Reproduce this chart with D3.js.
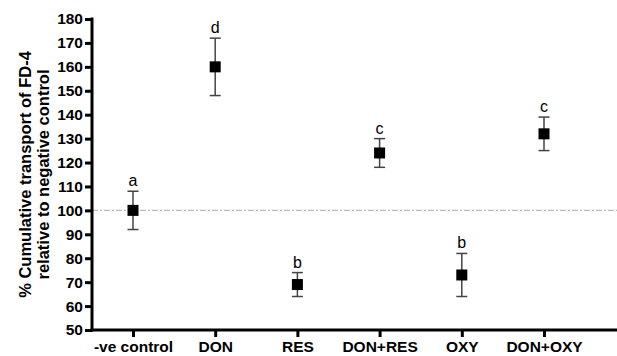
<!DOCTYPE html>
<html><head><meta charset="utf-8">
<script src="https://cdn.jsdelivr.net/npm/d3@7"></script>
<style>body{margin:0;background:#fff}svg{display:block}</style>
</head><body><svg id="c" width="617" height="356"></svg>
<script>
const categories = ["-ve control","DON","RES","DON+RES","OXY","DON+OXY"];
const means = [100,160,69,124,73,132];
const lower = [92,148,64,118,64,125];
const upper = [108,172,74,130,82,139];
const letters = ["a","d","b","c","b","c"];
const yTicks = [50,60,70,80,90,100,110,120,130,140,150,160,170,180];
const refValue = 100;

const svg = d3.select("#c");
const x0 = 92, xEnd = 617, yTop = 19, yBot = 330;
const x = d3.scalePoint().domain(categories).range([133,544]);
const y = d3.scaleLinear().domain([50,180]).range([yBot,yTop]);
const font = "'Liberation Sans', Arial, sans-serif";

// reference line
svg.append("line").attr("x1",x0).attr("x2",xEnd).attr("y1",y(refValue)).attr("y2",y(refValue))
  .attr("stroke","#bbb").attr("stroke-width",1.2).attr("stroke-dasharray","6,2,2,2");

// y axis
const ya = svg.append("g").attr("transform",`translate(${x0},0)`)
  .call(d3.axisLeft(y).tickValues(yTicks).tickSize(7).tickPadding(2));
ya.select(".domain").remove();
ya.selectAll(".tick line").attr("stroke","#000").attr("stroke-width",3);
ya.selectAll(".tick text").attr("font-family",font).attr("font-weight","bold").attr("font-size",15.5).attr("fill","#000");
svg.append("line").attr("x1",x0).attr("x2",x0).attr("y1",yTop-1.5).attr("y2",yBot+1.5).attr("stroke","#000").attr("stroke-width",3);

// x axis
const xa = svg.append("g").attr("transform",`translate(0,${yBot})`)
  .call(d3.axisBottom(x).tickSize(7).tickPadding(4));
xa.select(".domain").remove();
xa.selectAll(".tick line").attr("stroke","#000").attr("stroke-width",3);
xa.selectAll(".tick text").attr("font-family",font).attr("font-weight","bold").attr("font-size",15.5).attr("fill","#000");
svg.append("line").attr("x1",x0-1.5).attr("x2",xEnd).attr("y1",yBot).attr("y2",yBot).attr("stroke","#000").attr("stroke-width",3);

// axis title
const t = svg.append("text").attr("transform",`translate(31,${(yTop+yBot)/2}) rotate(-90)`)
  .attr("text-anchor","middle").attr("font-family",font).attr("font-weight","bold").attr("font-size",16.5).attr("fill","#000");
t.append("tspan").attr("x",0).attr("y",0).text("% Cumulative transport of FD-4");
t.append("tspan").attr("x",0).attr("y",0).attr("dy",18).text("relative to negative control");

// error bars and points
const g = svg.append("g");
categories.forEach((c,i)=>{
  const cx = x(c);
  g.append("line").attr("x1",cx).attr("x2",cx).attr("y1",y(lower[i])).attr("y2",y(upper[i])).attr("stroke","#444").attr("stroke-width",1.5);
  [lower[i],upper[i]].forEach(v=>g.append("line").attr("x1",cx-5.5).attr("x2",cx+5.5).attr("y1",y(v)).attr("y2",y(v)).attr("stroke","#444").attr("stroke-width",1.5));
  g.append("rect").attr("x",cx-5.5).attr("y",y(means[i])-5.5).attr("width",11).attr("height",11).attr("fill","#000");
  g.append("text").attr("x",cx).attr("y",y(upper[i])-5).attr("text-anchor","middle")
    .attr("font-family",font).attr("font-size",16).attr("fill","#000").text(letters[i]);
});
</script></body></html>
